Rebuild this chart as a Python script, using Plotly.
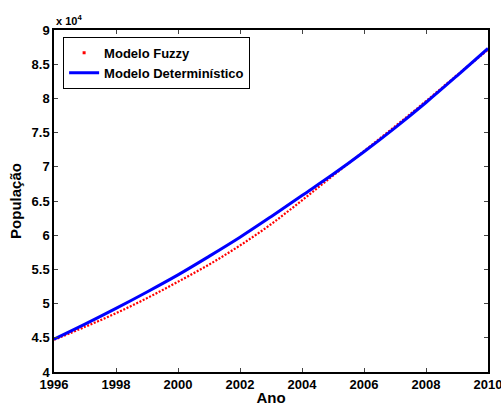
import plotly.graph_objects as go

# Years
anos = [1996, 1997, 1998, 1999, 2000, 2001, 2002, 2003, 2004, 2005, 2006, 2007, 2008, 2009, 2010]
# Population values (units of inhabitants)
modelo_deterministico = [44800, 47000, 49300, 51700, 54200, 56900, 59700, 62700, 65800, 68900, 72200, 75700, 79400, 83300, 87300]
modelo_fuzzy = [44700, 46600, 48600, 50800, 53200, 55700, 58500, 61600, 65100, 68700, 72300, 75900, 79600, 83400, 87100]

escala = 1e4
y_det = [v / escala for v in modelo_deterministico]
y_fuz = [v / escala for v in modelo_fuzzy]

x_ticks = [1996, 1998, 2000, 2002, 2004, 2006, 2008, 2010]
y_ticks = [4, 4.5, 5, 5.5, 6, 6.5, 7, 7.5, 8, 8.5, 9]

font_family = "Liberation Sans, Arial, sans-serif"

fig = go.Figure()
fig.add_trace(go.Scatter(
    x=anos, y=y_fuz, mode="lines", name="Modelo Fuzzy",
    line=dict(color="red", width=2.2, dash="2px,1.6px", shape="spline", smoothing=1.0),
    showlegend=False,
))
fig.add_trace(go.Scatter(
    x=[None], y=[None], mode="markers", name="Modelo Fuzzy",
    marker=dict(color="red", size=3, symbol="square"),
))
fig.add_trace(go.Scatter(
    x=anos, y=y_det, mode="lines", name="Modelo Determinístico",
    line=dict(color="blue", width=3, shape="spline"),
))

axis_common = dict(
    showgrid=False, zeroline=False, showline=True, linecolor="black", linewidth=1.5,
    mirror="ticks", ticks="inside", ticklen=4, tickwidth=1, tickcolor="#444",
    automargin=False,
    tickfont=dict(family=font_family, size=13, color="black", weight="bold"),
)

fig.update_layout(
    width=501, height=407,
    margin=dict(l=54, r=13, t=30, b=35),
    paper_bgcolor="white", plot_bgcolor="white",
    font=dict(family=font_family, color="black"),
    xaxis=dict(
        range=[1996, 2010], tickvals=x_ticks, ticktext=[str(t) for t in x_ticks],
        ticklabeloverflow="allow",
        title=dict(text="<b>Ano</b>", font=dict(family=font_family, size=15, color="black"), standoff=1),
        **axis_common,
    ),
    yaxis=dict(
        range=[4, 9], tickvals=y_ticks, ticktext=[f"{t:g}" for t in y_ticks],
        ticklabeloverflow="allow",
        title=dict(text="<b>População</b>", font=dict(family=font_family, size=15, color="black"), standoff=6),
        **axis_common,
    ),
    legend=dict(
        x=0.021, y=0.98, xanchor="left", yanchor="top",
        bordercolor="black", borderwidth=1, bgcolor="white",
        font=dict(family=font_family, size=13, color="black", weight="bold"),
        tracegroupgap=0, itemwidth=30,
    ),
    annotations=[dict(
        text="<b>x 10<sup>4</sup></b>", xref="paper", yref="paper", x=0, y=1,
        xanchor="left", yanchor="bottom", showarrow=False, yshift=1,
        font=dict(family=font_family, size=11, color="black"),
    )],
)

fig.write_html("out.html")
